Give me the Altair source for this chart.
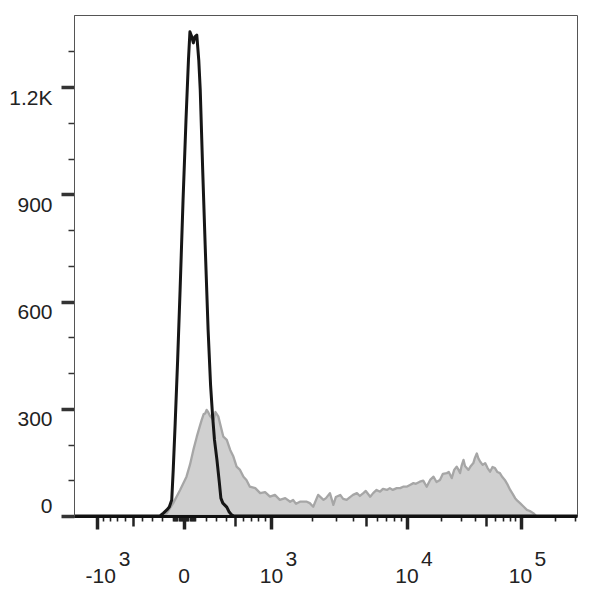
import math
import altair as alt
import pandas as pd

# ---------------- data (x in display channels 0-1024, y = cell count) -------------
gray_ch = [175, 189, 202, 216, 229, 236, 243, 250, 255, 260, 264, 267, 270, 273, 277,
           284, 288, 294, 298, 304, 311, 318, 324, 331, 338, 345, 351, 358, 369, 379,
           389, 399, 409, 419, 430, 440, 446, 452, 460, 474, 480, 487, 497, 508, 513,
           521, 528, 533, 542, 548, 555, 562, 568, 576, 582, 589, 594, 603, 609, 616,
           623, 629, 637, 643, 649, 657, 664, 670, 677, 684, 691, 696, 704, 711, 718,
           725, 732, 738, 745, 751, 759, 763, 769, 774, 779, 783, 786, 789, 793, 796,
           803, 808, 813, 816, 820, 823, 827, 832, 837, 842, 847, 852, 857, 862, 867,
           872, 877, 883, 888, 893, 898, 903, 908, 914, 922, 928, 935, 941]
gray_count = [0, 8, 36, 73, 110, 143, 185, 222, 246, 269, 285, 287, 297, 291, 280,
              269, 291, 278, 255, 222, 213, 185, 168, 138, 129, 110, 101, 82, 78, 64,
              67, 54, 59, 45, 50, 40, 45, 34, 40, 40, 36, 26, 59, 45, 50,
              64, 31, 53, 59, 48, 45, 53, 59, 64, 56, 64, 70, 54, 64, 73,
              68, 76, 73, 78, 73, 78, 78, 82, 82, 87, 92, 90, 96, 99, 82,
              101, 110, 95, 101, 118, 120, 123, 106, 129, 138, 129, 120, 140, 157, 140,
              129, 140, 148, 162, 175, 162, 152, 143, 148, 134, 124, 137, 134, 123, 120,
              109, 101, 87, 73, 62, 50, 42, 36, 28, 17, 14, 8, 0]

black_ch = [0, 175, 182, 189, 194, 199, 202, 206, 211, 216, 222, 228, 233, 236, 239,
            243, 246, 250, 254, 257, 262, 267, 273, 278, 282, 286, 291, 296, 299, 303,
            311, 316, 321, 326, 1024]
black_count = [0, 0, 8, 17, 25, 45, 129, 260, 437, 633, 884, 1108, 1276, 1355, 1344,
               1324, 1341, 1346, 1276, 1192, 968, 759, 521, 367, 283, 213, 157, 92, 50, 36,
               25, 11, 3, 0, 0]

# x axis: fluorescence values of ticks and labels
major_fl = [-1000, 0, 1000, 10000, 100000]
medium_fl = [-500, 500, 5000, 50000]
minor_fl = ([-900, -800, -700, -600, -400, -300, -200, -100]
            + [v for v in range(-90, 100, 10) if v != 0]
            + [100, 200, 300, 400, 600, 700, 800, 900]
            + [2000, 3000, 4000, 6000, 7000, 8000, 9000]
            + [20000, 30000, 40000, 60000, 70000, 80000, 90000]
            + [200000, 300000])
label_fl = [-1000, 0, 1000, 10000, 100000]
label_base = ["-10", "0", "10", "10", "10"]
label_sup = ["3", "", "3", "4", "5"]

# y axis ticks
y_major = [0, 300, 600, 900, 1200]
y_minor = [100, 200, 400, 500, 700, 800, 1000, 1100, 1300]

# ---------------- biexponential display transform (value -> channel) -------------
ZERO_CH, LIN_CH, DEC1_CH, DEC2_CH = 224.0, 178.0, 276.0, 231.0


def to_channel(v):
    a = abs(v)
    if a <= 1000:
        off = LIN_CH * math.asinh(a / 667.0) / math.asinh(1.5)
    else:
        lg = math.log10(a)
        off = LIN_CH + DEC1_CH * min(lg - 3, 1) + DEC2_CH * max(lg - 4, 0)
    return round(ZERO_CH + math.copysign(off, v), 2)


major_ch = [to_channel(v) for v in major_fl]
medium_ch = [to_channel(v) for v in medium_fl]
minor_ch = [to_channel(v) for v in minor_fl]
all_ch = sorted(set(major_ch + medium_ch + minor_ch))


def in_list(chs):
    return "(" + " || ".join(f"abs(datum.value - {c}) < 0.05" for c in chs) + ")"


gray_df = pd.DataFrame({"ch": gray_ch, "count": gray_count})
black_df = pd.DataFrame({"ch": black_ch, "count": black_count})
label_df = pd.DataFrame({
    "ch": [to_channel(v) for v in label_fl],
    "base": label_base,
    "sup": label_sup,
    "neg": [v < 0 for v in label_fl],
})

FONT = "Liberation Sans"

x_enc = alt.X(
    "ch:Q",
    scale=alt.Scale(domain=[0, 1024], nice=False, zero=False),
    axis=alt.Axis(
        title=None, grid=False, labels=False, values=all_ch,
        domainColor="#111111", domainWidth=3,
        tickColor="#222222",
        tickSize={"condition": [{"test": in_list(major_ch), "value": 13},
                                {"test": in_list(medium_ch), "value": 10}],
                  "value": 5},
        tickWidth={"condition": [{"test": in_list(major_ch), "value": 3.5},
                                 {"test": in_list(medium_ch), "value": 2.5}],
                   "value": 1.6},
        zindex=1,
    ),
)

y_enc = alt.Y(
    "count:Q",
    scale=alt.Scale(domain=[0, 1402], nice=False),
    axis=alt.Axis(
        title=None, grid=False, values=sorted(y_major + y_minor),
        domainColor="#555555", domainWidth=1,
        tickColor="#333333",
        tickSize={"condition": {"test": "datum.value % 300 === 0", "value": 13}, "value": 6},
        tickWidth={"condition": {"test": "datum.value % 300 === 0", "value": 3.5}, "value": 1.5},
        labelExpr="datum.value % 300 === 0 ? (datum.value >= 1000 ? format(datum.value / 1000, '.1f') + 'K' : format(datum.value, 'd')) : ''",
        labelBaseline={"condition": {"test": "datum.value === 0", "value": "bottom"}, "value": "top"},
        labelFont=FONT, labelFontSize=21, labelColor="#222222", labelPadding=9,
        zindex=1,
    ),
)

gray = alt.Chart(gray_df).mark_area(
    fill="#d0d0d0", stroke="#a6a6a6", strokeWidth=2.3, strokeJoin="round"
).encode(x=x_enc, y=y_enc)

black = alt.Chart(black_df).mark_line(
    color="#161616", strokeWidth=3, strokeJoin="round"
).encode(x=x_enc, y=y_enc)

TXT = dict(font=FONT, fontSize=21, color="#222222", baseline="alphabetic")

pos_base = alt.Chart(label_df).transform_filter("!datum.neg").mark_text(
    align="center", **TXT
).encode(x=x_enc, y=alt.value(568), text="base:N")

pos_sup = alt.Chart(label_df).transform_filter("!datum.neg").mark_text(
    align="left", dx=14, **TXT
).encode(x=x_enc, y=alt.value(551), text="sup:N")

neg_base = alt.Chart(label_df).transform_filter("datum.neg").mark_text(
    align="center", dx=4, **TXT
).encode(x=x_enc, y=alt.value(568), text="base:N")

neg_sup = alt.Chart(label_df).transform_filter("datum.neg").mark_text(
    align="left", dx=22, **TXT
).encode(x=x_enc, y=alt.value(551), text="sup:N")

chart = alt.layer(gray, black, pos_base, pos_sup, neg_base, neg_sup).properties(
    width=503, height=501,
    autosize=alt.AutoSizeParams(type="none"),
    padding={"left": 66, "top": 7, "right": 15, "bottom": 71},
    background="white",
).configure_view(stroke="#555555", strokeWidth=1)

chart.save("out.html", embed_options={"renderer": "svg", "actions": False})
